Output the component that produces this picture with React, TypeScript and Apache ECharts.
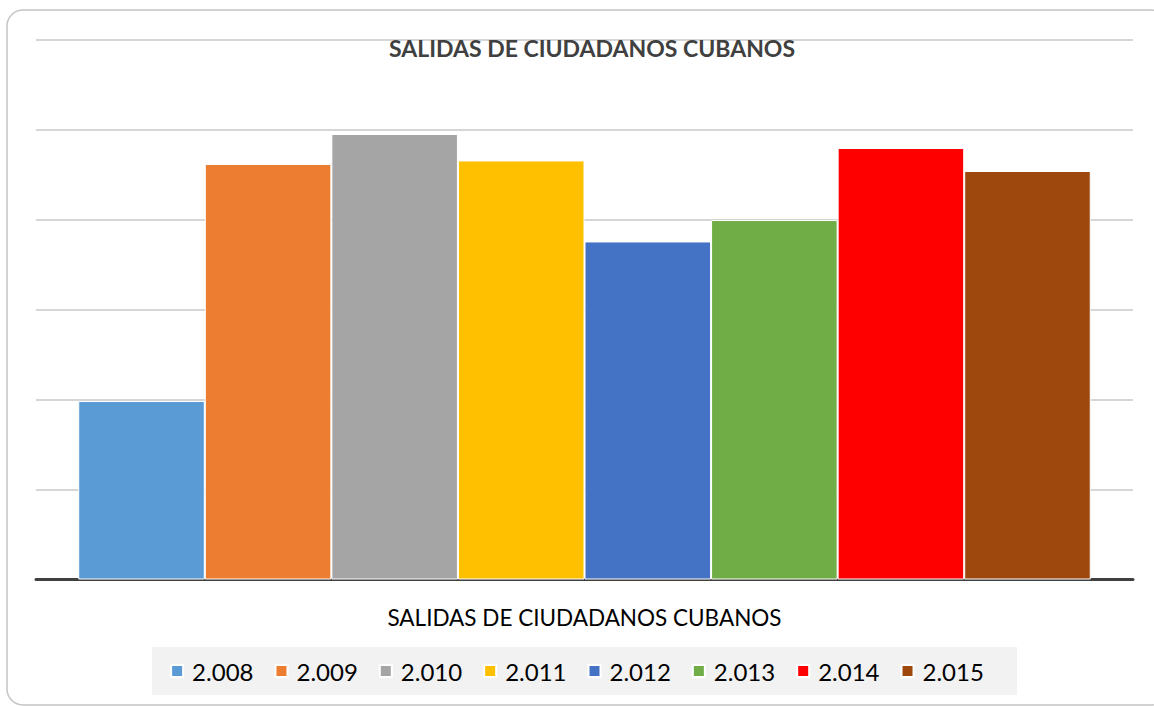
import React, { useEffect, useRef } from "react";
import * as echarts from "echarts";

const category = ["SALIDAS DE CIUDADANOS CUBANOS"];
const years = ["2.008", "2.009", "2.010", "2.011", "2.012", "2.013", "2.014", "2.015"];
const values = [198300, 461700, 495000, 465600, 375600, 399400, 479400, 453900];
const colors = ["#5B9BD5", "#ED7D31", "#A5A5A5", "#FFC000", "#4472C4", "#70AD47", "#FF0000", "#9E480E"];

export default function App() {
  const ref = useRef<HTMLDivElement>(null);
  useEffect(() => {
    document.body.style.margin = "0";
    const chart = echarts.init(ref.current!, null, { renderer: "svg" });
    const font = "Lato, 'Open Sans', sans-serif";
    chart.setOption({
      animation: false,
      textStyle: { fontFamily: font },
      title: {
        text: "SALIDAS DE CIUDADANOS CUBANOS",
        left: 384,
        top: 31,
        textStyle: { fontSize: 23, fontWeight: "bold", color: "#404040", fontFamily: font },
      },
      graphic: [
        {
          type: "rect",
          z: -10,
          shape: { x: 7, y: 10, width: 1160, height: 695, r: 16 },
          style: { fill: "#fff", stroke: "#c4c4c4", lineWidth: 1.5 },
        },
        {
          type: "rect",
          z: -5,
          shape: { x: 152, y: 647, width: 865, height: 48 },
          style: { fill: "#f2f2f2" },
        },
      ],
      legend: {
        data: years,
        left: "center",
        top: 654,
        itemWidth: 12,
        itemHeight: 12,
        itemGap: 21,
        icon: "rect",
        textStyle: { fontSize: 24, color: "#000", fontFamily: font, padding: [0, 0, 0, 4] },
      },
      grid: { left: 36, right: 21, top: 39.5, bottom: 126.5 },
      xAxis: {
        type: "category",
        data: category,
        axisLine: { lineStyle: { color: "#404040", width: 3 } },
        axisTick: { show: false },
        axisLabel: { fontSize: 22.5, color: "#000", margin: 26, fontFamily: font },
      },
      yAxis: {
        type: "value",
        min: 0,
        max: 600000,
        interval: 100000,
        axisLabel: { show: false },
        axisLine: { show: false },
        axisTick: { show: false },
        splitLine: { lineStyle: { color: "#c8c8c8", width: 1.5 } },
      },
      series: years.map((y, i) => ({
        name: y,
        type: "bar",
        data: [values[i]],
        barGap: "0%",
        barCategoryGap: "7.7%",
        itemStyle: { color: colors[i], borderColor: "#fff", borderWidth: 1 },
      })),
    });
    return () => chart.dispose();
  }, []);
  return <div ref={ref} style={{ position: "absolute", left: 0, top: 0, width: 1154, height: 706 }} />;
}
